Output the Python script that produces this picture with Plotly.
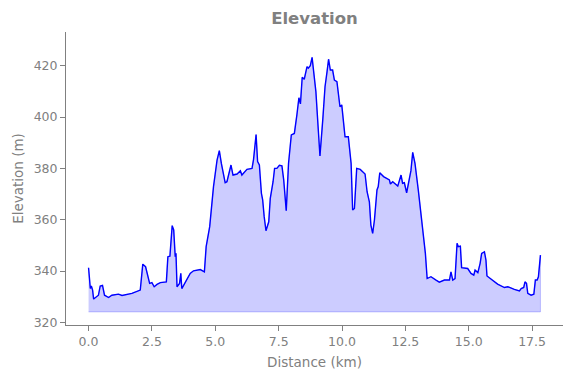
import plotly.graph_objects as go

distance_km = [
    0.00, 0.07, 0.11, 0.16, 0.20, 0.29, 0.39, 0.46, 0.55, 0.63, 0.79, 0.92, 1.18, 1.32, 1.51,
    1.71, 2.04, 2.14, 2.25, 2.33, 2.41, 2.50, 2.59, 2.70, 2.83, 3.07, 3.13, 3.21, 3.30, 3.36,
    3.42, 3.45, 3.49, 3.59, 3.64, 3.68, 3.82, 4.01, 4.14, 4.41, 4.57, 4.64, 4.78, 4.93, 5.07,
    5.16, 5.24, 5.33, 5.39, 5.46, 5.53, 5.62, 5.70, 5.86, 5.99, 6.05, 6.25, 6.45, 6.51, 6.61,
    6.67, 6.74, 6.82, 6.87, 6.93, 7.00, 7.11, 7.17, 7.28, 7.34, 7.43, 7.53, 7.63, 7.70, 7.80,
    7.89, 8.00, 8.12, 8.22, 8.30, 8.36, 8.43, 8.51, 8.62, 8.67, 8.75, 8.82, 8.88, 8.97, 9.04,
    9.13, 9.24, 9.33, 9.41, 9.47, 9.54, 9.63, 9.70, 9.80, 9.92, 9.99, 10.12, 10.25, 10.36, 10.42,
    10.49, 10.58, 10.72, 10.91, 10.99, 11.08, 11.14, 11.21, 11.28, 11.38, 11.43, 11.49, 11.64, 11.87, 11.91,
    12.00, 12.20, 12.33, 12.39, 12.46, 12.55, 12.66, 12.72, 12.79, 12.88, 13.01, 13.12, 13.22, 13.29, 13.36,
    13.51, 13.71, 13.84, 14.04, 14.24, 14.30, 14.37, 14.46, 14.54, 14.59, 14.67, 14.72, 14.96, 15.09, 15.20,
    15.25, 15.36, 15.45, 15.51, 15.62, 15.68, 15.72, 15.95, 16.14, 16.41, 16.54, 16.80, 17.00, 17.07, 17.17,
    17.22, 17.28, 17.33, 17.46, 17.57, 17.63, 17.70, 17.75, 17.83,
]
elevation_m = [
    341.3, 333.2, 334.2, 332.6, 329.1, 330.0, 330.6, 334.2, 334.4, 330.6, 329.7, 330.6, 331.0, 330.5, 331.0,
    331.3, 332.6, 342.7, 341.7, 337.8, 335.2, 335.5, 333.9, 334.8, 335.5, 335.8, 345.6, 345.8, 357.7, 356.0,
    345.6, 346.9, 333.9, 335.2, 339.1, 333.2, 335.8, 339.1, 340.1, 340.6, 339.7, 349.5, 357.3, 372.9, 383.2,
    386.9, 381.9, 378.1, 374.4, 374.8, 378.3, 381.3, 377.4, 377.8, 379.1, 377.4, 379.6, 380.0, 383.5, 393.2,
    382.6, 381.3, 370.3, 367.7, 361.2, 355.7, 359.2, 368.3, 374.8, 380.0, 380.0, 381.2, 381.0, 375.5, 363.5,
    381.9, 393.0, 393.6, 400.8, 407.5, 405.1, 415.5, 414.7, 419.6, 419.0, 420.0, 423.2, 418.3, 409.9, 398.8,
    384.8, 398.8, 411.8, 417.7, 422.5, 418.3, 418.3, 414.4, 413.8, 404.0, 404.7, 392.3, 392.3, 381.9, 363.8,
    364.4, 380.0, 379.6, 377.8, 370.9, 367.0, 357.9, 354.7, 359.9, 371.6, 372.9, 378.3, 376.8, 375.5, 373.9,
    374.8, 373.1, 377.4, 374.2, 374.4, 370.5, 375.5, 379.1, 386.2, 381.9, 371.6, 362.5, 354.7, 346.9, 337.1,
    337.8, 336.5, 335.7, 336.5, 336.5, 339.7, 336.5, 337.1, 350.8, 349.5, 349.7, 341.3, 341.0, 339.1, 338.4,
    340.4, 339.4, 343.0, 346.9, 347.5, 344.3, 338.1, 336.5, 334.9, 333.6, 333.9, 332.9, 332.3, 333.2, 333.6,
    335.8, 335.2, 331.3, 330.6, 331.0, 336.5, 336.5, 337.8, 346.2,
]
x_ticks = [0, 2.5, 5, 7.5, 10, 12.5, 15, 17.5]
x_tick_labels = ["0.0", "2.5", "5.0", "7.5", "10.0", "12.5", "15.0", "17.5"]
y_ticks = [320, 340, 360, 380, 400, 420]

base = min(elevation_m) - 5
poly_x = distance_km + distance_km[::-1]
poly_y = elevation_m + [base] * len(distance_km)

GRAY = "#808080"
FONT = "DejaVu Sans"

fig = go.Figure()
fig.add_trace(go.Scatter(
    x=poly_x, y=poly_y, fill="toself", fillcolor="rgba(0,0,255,0.2)",
    line=dict(color="rgba(0,0,255,0.2)", width=1), mode="lines",
    hoverinfo="skip", showlegend=False,
))
fig.add_trace(go.Scatter(
    x=distance_km, y=elevation_m, mode="lines",
    line=dict(color="#0000ff", width=1.4), showlegend=False,
))

fig.update_layout(
    width=571, height=378,
    margin=dict(l=66, r=8, t=32, b=53, autoexpand=False),
    paper_bgcolor="white", plot_bgcolor="white",
    font=dict(family=FONT, color=GRAY, size=12.5),
    title=dict(text="<b>Elevation</b>", x=0.5, xref="paper",
               y=1 - 18 / 378, yref="container", yanchor="middle",
               font=dict(family=FONT, size=16.5, color=GRAY)),
)
fig.update_xaxes(
    range=[-0.89, 18.72], tickvals=x_ticks, ticktext=x_tick_labels,
    showgrid=False, zeroline=False, showline=True, linecolor=GRAY, linewidth=1,
    ticks="outside", ticklen=5, tickcolor=GRAY, automargin=False,
    tickfont=dict(family=FONT, size=12.5, color=GRAY),
    title=dict(text="Distance (km)", font=dict(family=FONT, size=13.5, color=GRAY), standoff=9),
)
fig.update_yaxes(
    range=[319.0, 433.1], tickvals=y_ticks,
    showgrid=False, zeroline=False, showline=True, linecolor=GRAY, linewidth=1,
    ticks="outside", ticklen=5, tickcolor=GRAY, automargin=False,
    tickfont=dict(family=FONT, size=12.5, color=GRAY),
    title=dict(text="Elevation (m)", font=dict(family=FONT, size=13.5, color=GRAY), standoff=6),
)

fig.write_html("out.html", config={"displayModeBar": False},
               post_script="document.body.style.margin='0';")
